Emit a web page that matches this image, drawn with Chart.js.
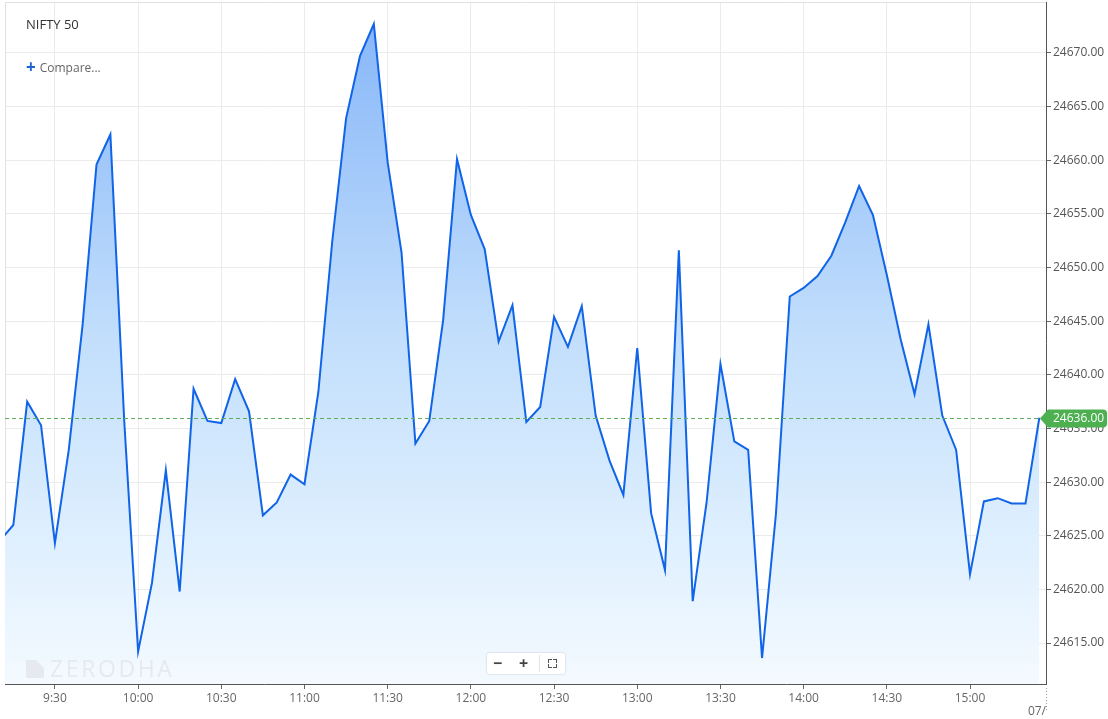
<!DOCTYPE html>
<html>
<head>
<meta charset="utf-8">
<script src="https://cdn.jsdelivr.net/npm/chart.js@4.4.1/dist/chart.umd.min.js"></script>
<style>
  html, body { margin: 0; padding: 0; background: #fff; }
  #wrap { position: relative; width: 1108px; height: 719px; overflow: hidden; font-family: "Open Sans", "Noto Sans", sans-serif; }
  canvas { position: absolute; left: 0; top: 0; }
  .title { position: absolute; left: 26px; top: 15px; font-size: 13px; color: #333; }
  .compare { position: absolute; left: 26px; top: 54px; font-size: 12px; color: #666; }
  .compare b { color: #1e63d4; font-size: 17px; font-weight: 700; margin-right: 4px; position: relative; top: 1px; }
  .wm { position: absolute; left: 26px; top: 652px; font-size: 23px; color: #e6eaef; letter-spacing: 2.6px; }
  .wm i { display: inline-block; width: 18px; height: 18px; background: #e6eaef; margin-right: 6px; position: relative; top: 1px;
          clip-path: polygon(0 0, 55% 0, 100% 45%, 100% 100%, 0 100%); }
  .zoomctl { position: absolute; left: 487px; top: 653px; width: 78px; height: 21px; background: #fff;
             box-shadow: 0 0 2px rgba(0,0,0,0.25); border-radius: 2px; font-size: 16px; color: #444; }
  .zoomctl span { position: absolute; top: -1px; font-weight: 700; }
  .zoomctl .sep { position: absolute; left: 52px; top: 2px; width: 1px; height: 17px; background: #e4e4e4; }
  .fs { position: absolute; left: 61px; top: 6px; width: 9px; height: 9px; }
  .fs div { position: absolute; width: 3px; height: 3px; border-color: #555; border-style: solid; border-width: 0; }
</style>
</head>
<body>
<div id="wrap">
  <canvas id="c" width="1108" height="719"></canvas>
  <div class="title">NIFTY 50</div>
  <div class="compare"><b>+</b>Compare...</div>
  <div class="wm"><i></i>ZERODHA</div>
  <div class="zoomctl">
    <span style="left:6px;">−</span>
    <span style="left:32px;">+</span>
    <div class="sep"></div>
    <div class="fs">
      <div style="left:0;top:0;border-left-width:1.5px;border-top-width:1.5px;"></div>
      <div style="right:0;top:0;border-right-width:1.5px;border-top-width:1.5px;"></div>
      <div style="left:0;bottom:0;border-left-width:1.5px;border-bottom-width:1.5px;"></div>
      <div style="right:0;bottom:0;border-right-width:1.5px;border-bottom-width:1.5px;"></div>
    </div>
  </div>
</div>
<script>
// ---- Data ----
const times = ['9:10','9:15','9:20','9:25','9:30','9:35','9:40','9:45','9:50','9:55',
  '10:00','10:05','10:10','10:15','10:20','10:25','10:30','10:35','10:40','10:45','10:50','10:55',
  '11:00','11:05','11:10','11:15','11:20','11:25','11:30','11:35','11:40','11:45','11:50','11:55',
  '12:00','12:05','12:10','12:15','12:20','12:25','12:30','12:35','12:40','12:45','12:50','12:55',
  '13:00','13:05','13:10','13:15','13:20','13:25','13:30','13:35','13:40','13:45','13:50','13:55',
  '14:00','14:05','14:10','14:15','14:20','14:25','14:30','14:35','14:40','14:45','14:50','14:55',
  '15:00','15:05','15:10','15:15','15:20','15:25'];
const prices = [24624.5,24626.0,24637.5,24635.3,24624.3,24633.0,24644.7,24659.6,24662.4,24635.7,
  24614.2,24620.6,24631.1,24619.8,24638.7,24635.7,24635.5,24639.6,24636.6,24626.9,24628.1,24630.7,
  24629.8,24638.4,24652.4,24663.9,24669.7,24672.7,24659.8,24651.4,24633.6,24635.7,24645.1,24660.1,
  24654.9,24651.7,24643.1,24646.5,24635.6,24637.0,24645.4,24642.6,24646.4,24636.2,24632.0,24628.8,
  24642.5,24627.1,24621.8,24651.6,24618.9,24628.1,24641.0,24633.8,24633.0,24613.6,24627.0,24647.3,
  24648.1,24649.2,24651.1,24654.2,24657.6,24654.9,24649.3,24643.3,24638.2,24644.7,24636.2,24633.0,
  24621.4,24628.2,24628.5,24628.0,24628.0,24636.0];
const xTickLabels = ['9:30','10:00','10:30','11:00','11:30','12:00','12:30','13:00','13:30','14:00','14:30','15:00'];
const yTickValues = [24615,24620,24625,24630,24635,24640,24645,24650,24655,24660,24665,24670];
const lastPrice = 24636.00;
const dateLabel = '07/';
const viewStart = '9:12';
const viewEnd = '15:27.4';

// ---- helpers ----
function toMin(t){ const [h,m] = t.split(':'); return parseInt(h)*60 + parseFloat(m); }
function fmtTime(v){ const h = Math.floor(v/60), m = Math.round(v%60); return h + ':' + (m<10?'0':'') + m; }
const points = times.map((t,i)=>({x: toMin(t), y: prices[i]}));

const FONT = '"Open Sans", "Noto Sans", sans-serif';

const overlay = {
  id: 'overlay',
  beforeDatasetsDraw(chart){
    const {ctx, chartArea:a} = chart;
    ctx.save();
    ctx.strokeStyle = '#e2e2e2'; ctx.lineWidth = 1;
    ctx.beginPath();
    ctx.moveTo(a.left+0.5, a.top); ctx.lineTo(a.left+0.5, a.bottom);
    ctx.moveTo(a.left, a.top+0.5); ctx.lineTo(a.right, a.top+0.5);
    ctx.stroke();
    ctx.restore();
  },
  afterDraw(chart){
    const {ctx, chartArea:a, scales} = chart;
    const y = Math.round(scales.y.getPixelForValue(lastPrice)) + 0.5;
    ctx.save();
    // dashed last-price line
    ctx.strokeStyle = '#5fae5f'; ctx.lineWidth = 1; ctx.setLineDash([4,3]);
    ctx.beginPath(); ctx.moveTo(a.left, y); ctx.lineTo(a.right-6, y); ctx.stroke();
    ctx.setLineDash([]);
    // label
    const x0 = a.right - 6, h = 18;
    ctx.fillStyle = '#4caf50';
    ctx.beginPath();
    ctx.moveTo(x0, y);
    ctx.lineTo(x0+8, y-h/2);
    ctx.lineTo(1103, y-h/2);
    ctx.quadraticCurveTo(1107, y-h/2, 1107, y-h/2+4);
    ctx.lineTo(1107, y+h/2-4);
    ctx.quadraticCurveTo(1107, y+h/2, 1103, y+h/2);
    ctx.lineTo(x0+8, y+h/2);
    ctx.closePath(); ctx.fill();
    ctx.fillStyle = '#fff'; ctx.font = '12px ' + FONT; ctx.textBaseline = 'middle'; ctx.textAlign = 'left';
    ctx.fillText(lastPrice.toFixed(2), 1053, y);
    // date label at right end of time axis
    ctx.strokeStyle = '#999'; ctx.setLineDash([1,2]);
    ctx.beginPath(); ctx.moveTo(a.right+0.5, a.bottom+4); ctx.lineTo(a.right+0.5, a.bottom+28); ctx.stroke();
    ctx.setLineDash([]);
    ctx.fillStyle = '#666'; ctx.textAlign = 'right'; ctx.textBaseline = 'middle';
    ctx.fillText(dateLabel, a.right, a.bottom + 28);
    ctx.restore();
  }
};

const ctx = document.getElementById('c').getContext('2d');
new Chart(ctx, {
  type: 'line',
  data: {
    datasets: [{
      data: points,
      borderColor: '#1064e8',
      borderWidth: 2,
      pointRadius: 0,
      tension: 0,
      fill: 'start',
      backgroundColor(c){
        const a = c.chart.chartArea;
        if (!a) return 'rgba(140,185,248,0.5)';
        const g = c.chart.ctx.createLinearGradient(0, a.top, 0, a.bottom);
        g.addColorStop(0, '#84b4f8');
        g.addColorStop(0.5, '#c3dffc');
        g.addColorStop(0.8, '#e0f0fe');
        g.addColorStop(1, '#f4faff');
        return g;
      }
    }]
  },
  options: {
    responsive: false,
    devicePixelRatio: 1,
    animation: false,
    layout: { padding: { left: 5, top: 2, right: 0, bottom: 0 } },
    plugins: { legend: { display: false }, tooltip: { enabled: false } },
    scales: {
      x: {
        type: 'linear',
        min: toMin(viewStart),
        max: toMin(viewEnd),
        afterBuildTicks(s){ s.ticks = xTickLabels.map(t=>({value: toMin(t)})); },
        afterFit(s){ s.height = 35; s.paddingLeft = 0; s.paddingRight = 0; },
        grid: { color: '#ebebeb', tickColor: '#666', tickLength: 5, drawOnChartArea: true },
        border: { color: '#555', width: 1 },
        ticks: {
          callback: (v)=>fmtTime(v),
          color: '#666', font: { family: FONT, size: 12 }, padding: 2,
          maxRotation: 0, autoSkip: false
        }
      },
      y: {
        position: 'right',
        min: 24611.18,
        max: 24674.75,
        afterBuildTicks(s){ s.ticks = yTickValues.map(v=>({value: v})); },
        afterFit(s){ s.width = 62; s.paddingTop = 0; s.paddingBottom = 0; },
        grid: { color: '#ebebeb', tickColor: '#666', tickLength: 5 },
        border: { color: '#555', width: 1 },
        ticks: {
          callback: (v)=>Number(v).toFixed(2),
          color: '#555', font: { family: FONT, size: 12 }, padding: 2, autoSkip: false
        }
      }
    }
  },
  plugins: [overlay]
});
</script>
</body>
</html>
